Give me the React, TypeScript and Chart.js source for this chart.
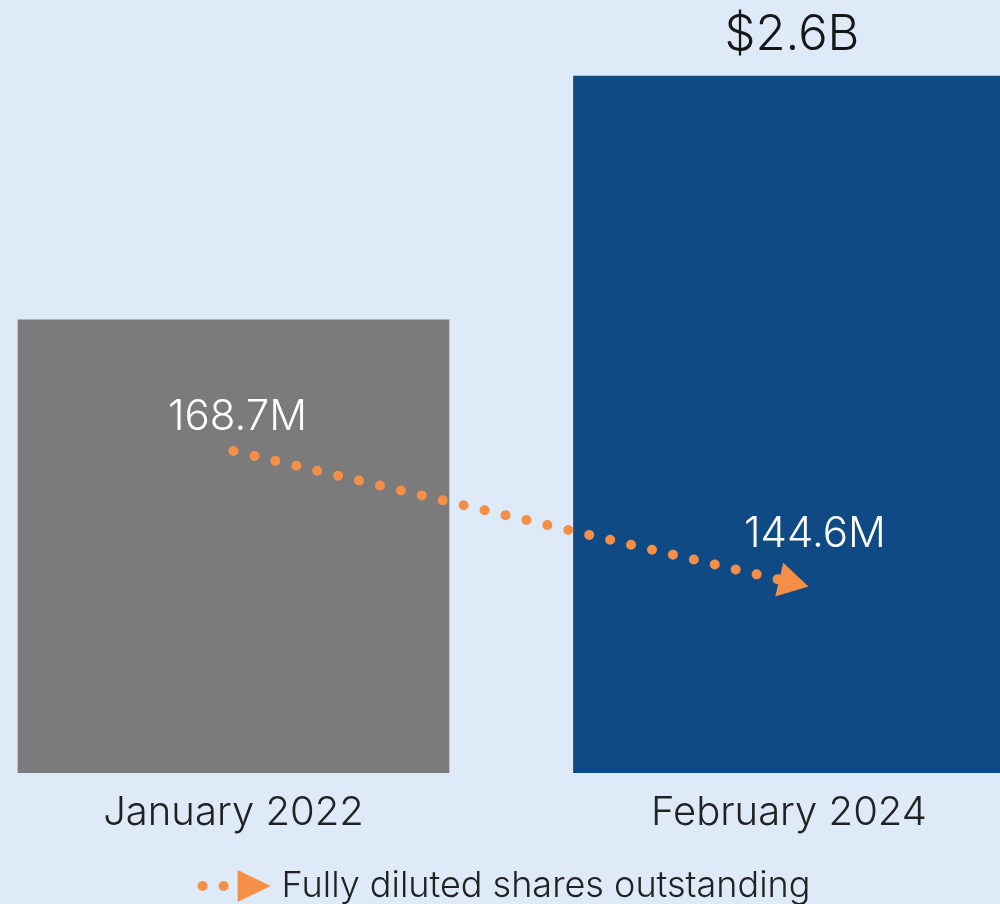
import React, { useEffect, useRef } from "react";
import { Chart, registerables } from "chart.js";

Chart.register(...registerables);

const categories = ["January 2022", "February 2024"];
const valueBillions = [1.69, 2.6];
const valueLabels = ["", "$2.6B"];
const sharesMillions = [168.7, 144.6];
const sharesLabels = ["168.7M", "144.6M"];
const seriesName = "Fully diluted shares outstanding";

const FONT = "Inter, 'Noto Sans', 'DejaVu Sans', sans-serif";
const BG = "#deeaf7";
const GRAY = "#7b7b7b";
const BLUE = "#0f4a84";
const ORANGE = "#f58f47";

function makeLegendIcon(color: string) {
  const c = document.createElement("canvas");
  c.width = 88;
  c.height = 34;
  const g = c.getContext("2d")!;
  g.fillStyle = color;
  [20, 41].forEach((x) => {
    g.beginPath();
    g.arc(x, 17, 5, 0, Math.PI * 2);
    g.fill();
  });
  g.beginPath();
  g.moveTo(55, 1);
  g.lineTo(88, 17);
  g.lineTo(55, 33);
  g.closePath();
  g.fill();
  return c;
}

const labelPlugin = {
  id: "valueLabels",
  afterDatasetsDraw(chart: any) {
    const ctx = chart.ctx;
    ctx.save();
    ctx.textAlign = "center";
    ctx.textBaseline = "alphabetic";
    const barMeta = chart.getDatasetMeta(0);
    ctx.fillStyle = "#161616";
    ctx.font = `300 49px ${FONT}`;
    barMeta.data.forEach((el: any, i: number) => {
      if (valueLabels[i]) ctx.fillText(valueLabels[i], el.x + 3, el.y - 26);
    });
    const lineMeta = chart.getDatasetMeta(1);
    ctx.fillStyle = "#ffffff";
    ctx.font = `300 42px ${FONT}`;
    const offs = [
      [4, -21],
      [26, -35],
    ];
    lineMeta.data.forEach((el: any, i: number) => {
      ctx.fillText(sharesLabels[i], el.x + offs[i][0], el.y + offs[i][1]);
    });
    ctx.restore();
  },
};

export default function App() {
  const ref = useRef<HTMLCanvasElement | null>(null);
  useEffect(() => {
    document.body.style.margin = "0";
    const icon = makeLegendIcon(ORANGE);
    const chart = new Chart(ref.current!, {
      data: {
        datasets: [
          {
            type: "bar",
            label: "Value",
            data: categories.map((_, i) => ({ x: i, y: valueBillions[i] })),
            backgroundColor: [GRAY, BLUE],
            barThickness: 431,
            yAxisID: "y",
            order: 2,
          },
          {
            type: "line",
            label: seriesName,
            data: categories.map((_, i) => ({ x: i, y: sharesMillions[i] })),
            borderColor: ORANGE,
            backgroundColor: ORANGE,
            borderWidth: 10,
            borderDash: [0, 21.5],
            borderCapStyle: "round",
            pointStyle: "triangle",
            pointRadius: [0, 20],
            pointRotation: [0, 103.3],
            pointBorderWidth: 0,
            pointBackgroundColor: ORANGE,
            yAxisID: "y2",
            order: 1,
            clip: false,
          },
        ],
      } as any,
      options: {
        responsive: false,
        animation: false,
        layout: { autoPadding: false, padding: { top: 0, left: 0, right: 0, bottom: -10 } },
        scales: {
          x: {
            type: "linear",
            offset: false,
            min: -0.4203,
            max: 1.3799,
            grid: { display: false, drawTicks: false, offset: false },
            border: { display: false },
            afterBuildTicks: (axis: any) => {
              axis.ticks = categories.map((_, i) => ({ value: i }));
            },
            afterFit: (axis: any) => {
              axis.height = 93;
              axis.paddingLeft = 0;
              axis.paddingRight = 0;
            },
            ticks: {
              padding: 16,
              autoSkip: false,
              maxRotation: 0,
              color: "#222222",
              font: { family: FONT, size: 40, weight: "300" },
              callback: (v: any) => categories[Number(v)] ?? "",
            },
          },
          y: { display: false, min: 0, max: 2.8835 },
          y2: { display: false, min: 109.46, max: 251.67 },
        },
        plugins: {
          tooltip: { enabled: false },
          legend: {
            position: "bottom",
            labels: {
              usePointStyle: true,
              pointStyleWidth: 74,
              padding: 2,
              color: "#222222",
              font: { family: FONT, size: 36, weight: "300" },
              filter: (item: any) => item.datasetIndex === 1,
              generateLabels: (ch: any) =>
                Chart.defaults.plugins.legend.labels
                  .generateLabels(ch)
                  .map((l: any) => ({ ...l, pointStyle: icon, lineWidth: 0 })),
            },
          },
        },
      } as any,
      plugins: [labelPlugin],
    });
    return () => chart.destroy();
  }, []);
  return (
    <div
      style={{
        position: "fixed",
        top: 0,
        left: 0,
        width: 1000,
        height: 904,
        background: BG,
        overflow: "hidden",
      }}
    >
      <canvas ref={ref} width={1000} height={904} style={{ display: "block" }} />
    </div>
  );
}
